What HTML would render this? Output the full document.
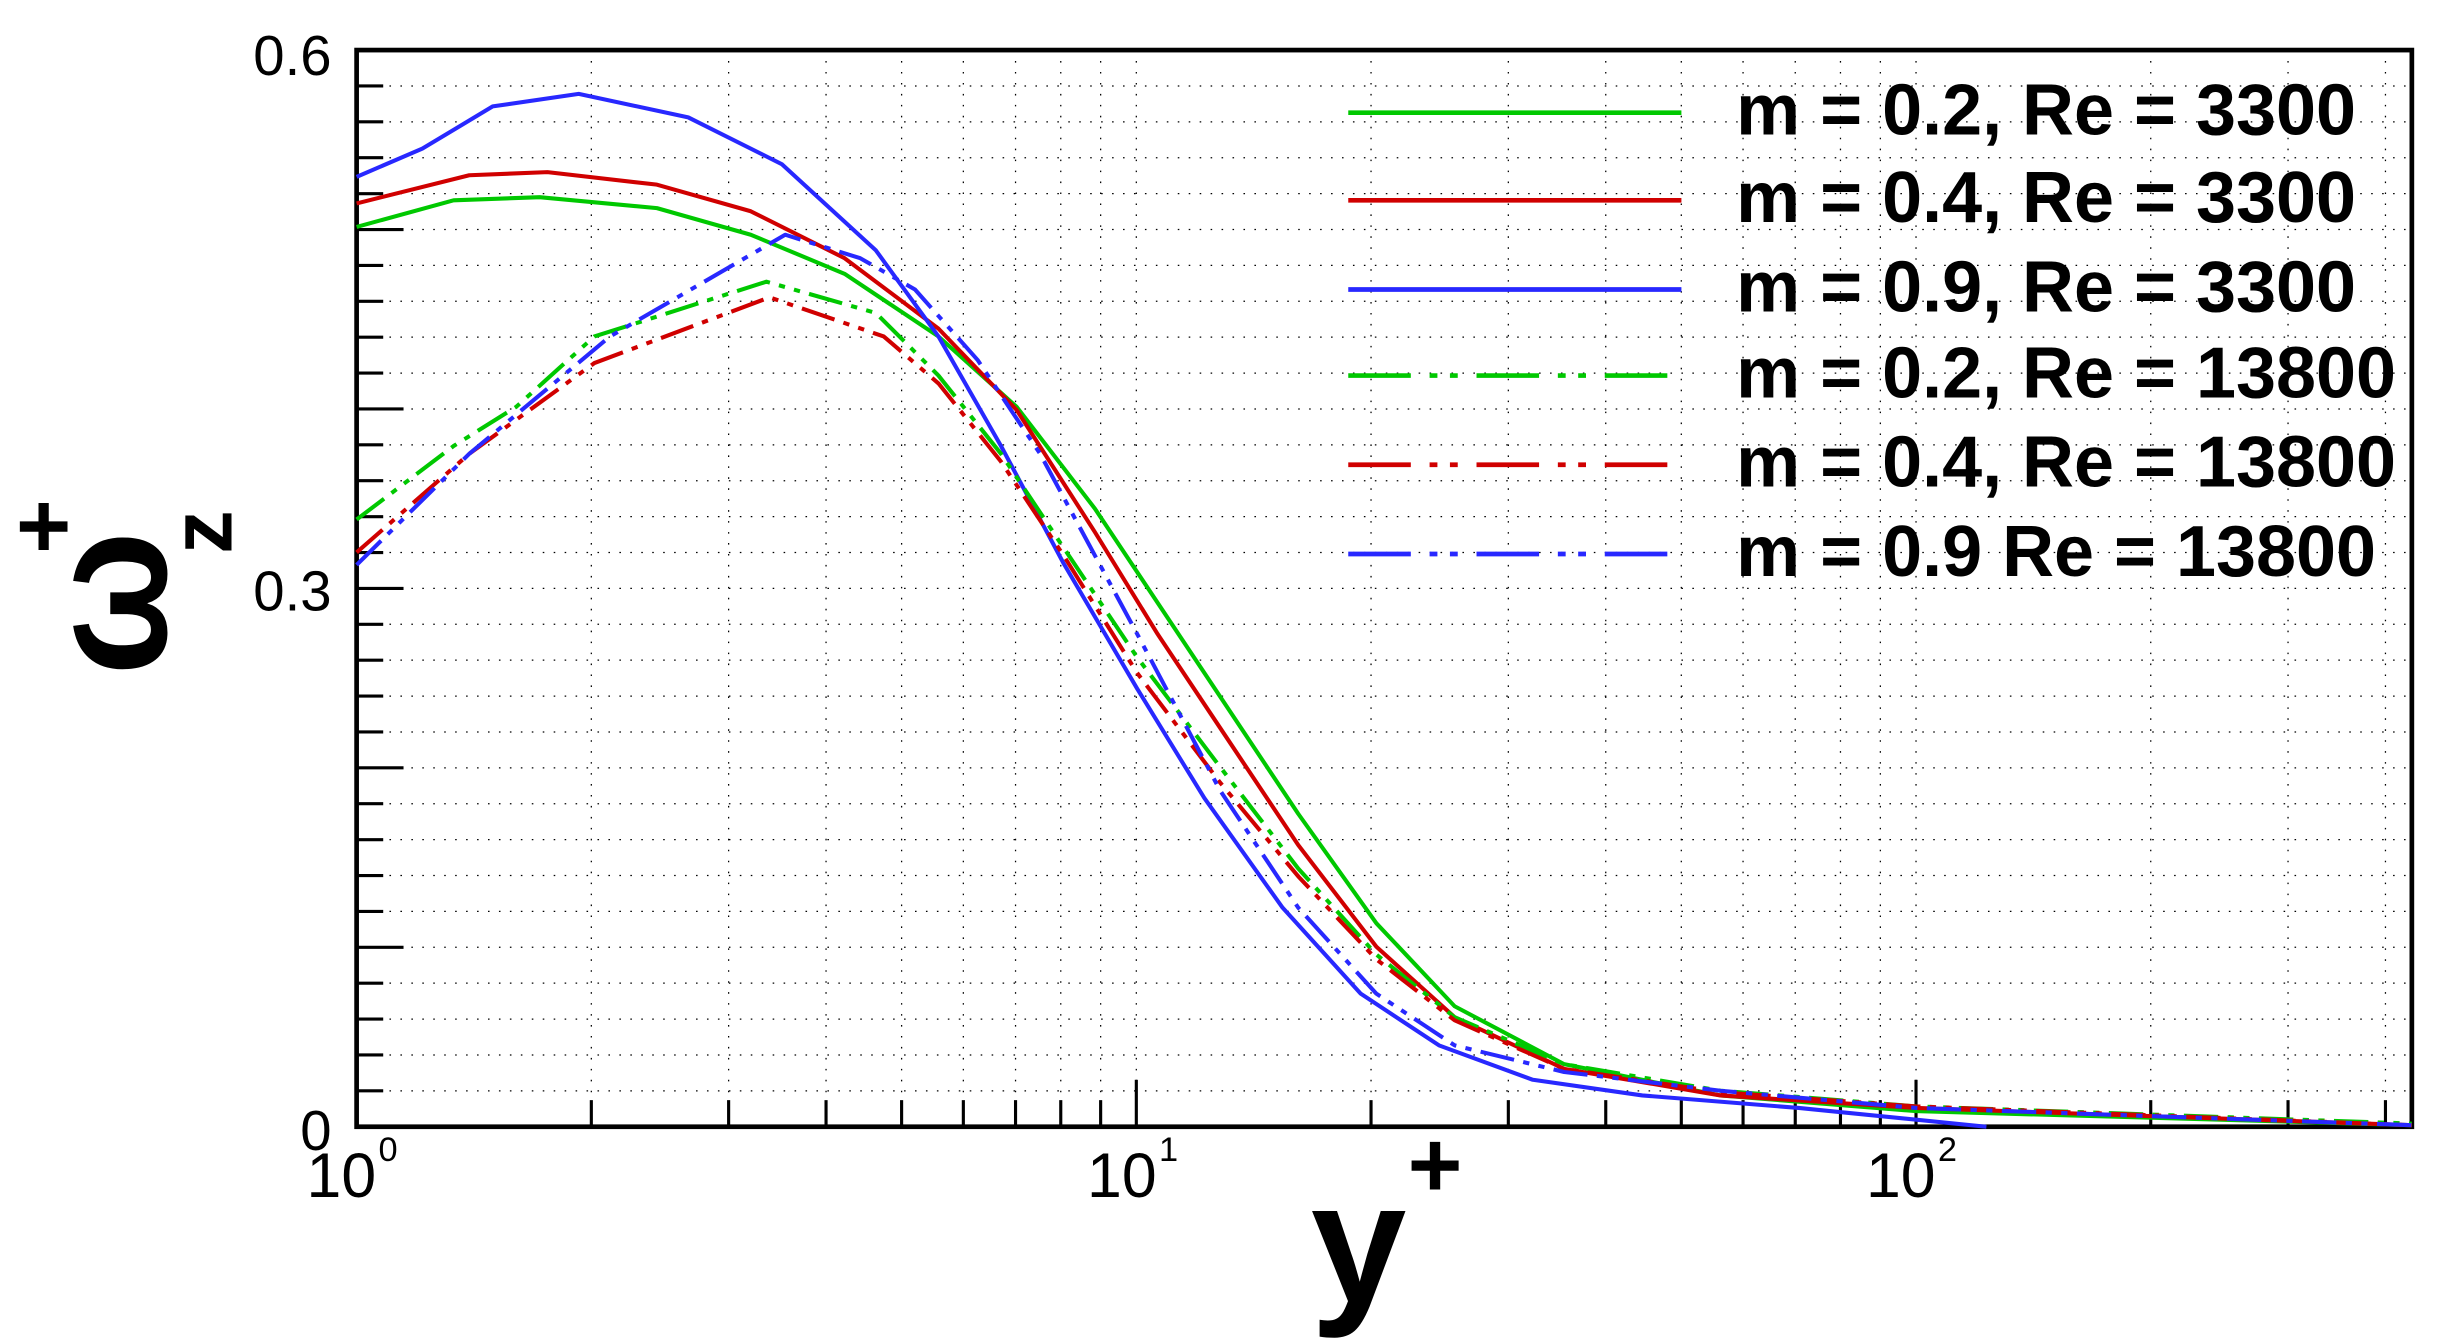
<!DOCTYPE html>
<html><head><meta charset="utf-8"><style>html,body{margin:0;padding:0;background:#fff}svg{display:block}</style></head><body>
<svg width="2440" height="1338" viewBox="0 0 1560 855" preserveAspectRatio="none" xmlns="http://www.w3.org/2000/svg" font-family="Liberation Sans, sans-serif">
<g id="grid" stroke="#000" stroke-width="0.8" stroke-dasharray="1 6" fill="none">
</g>
<g id="ticks" stroke="#000" stroke-width="2" fill="none"></g>
<rect x="228" y="32" width="1314" height="688" fill="none" stroke="#000" stroke-width="3"/>
<g fill="none" stroke-width="2.6" stroke-linejoin="round">
<polyline stroke="#00c800" points="228,145 290,128 345,126 420,133 480,150 540,175 600,215 650,260 700,325 740,385 780,445 830,520 880,590 930,643 1000,680 1100,700 1225,710 1542,719"/>
<polyline stroke="#d00000" points="228,130 300,112 350,110 420,118 480,135 540,165 600,210 650,262 700,340 740,405 780,465 830,540 880,605 930,650 1000,683 1100,700 1225,708 1542,719"/>
<polyline stroke="#2828ff" points="228,113 270,95 315,68 370,60 440,75 500,105 560,160 600,215 640,285 680,360 727,440 770,510 820,580 870,635 920,668 980,690 1050,700 1150,708 1270,720"/>
<polyline stroke="#00c800" stroke-dasharray="22 6 4 6 4 6" points="228,332 290,285 330,260 380,215 490,180 560,200 600,240 640,290 680,350 727,420 780,490 830,555 880,610 930,650 1000,680 1100,697 1225,707 1542,718"/>
<polyline stroke="#d00000" stroke-dasharray="22 6 4 6 4 6" points="228,353 300,290 380,232 492,190 565,215 600,245 640,295 680,355 727,430 780,500 830,560 880,613 930,652 1000,683 1100,698 1225,707 1542,719"/>
<polyline stroke="#2828ff" stroke-dasharray="22 6 4 6 4 6" points="228,361 300,290 390,215 502,150 550,165 585,185 625,230 665,290 727,405 780,505 830,580 880,635 930,668 1000,685 1100,697 1225,708 1542,719"/>
</g>
<g stroke-width="3">
<line x1="862" y1="72" x2="1075" y2="72" stroke="#00c800"/>
<line x1="862" y1="128" x2="1075" y2="128" stroke="#d00000"/>
<line x1="862" y1="185" x2="1075" y2="185" stroke="#2828ff"/>
<line x1="862" y1="240" x2="1075" y2="240" stroke="#00c800" stroke-dasharray="40 12 5 8 5 12"/>
<line x1="862" y1="297" x2="1075" y2="297" stroke="#d00000" stroke-dasharray="40 12 5 8 5 12"/>
<line x1="862" y1="354" x2="1075" y2="354" stroke="#2828ff" stroke-dasharray="40 12 5 8 5 12"/>
</g>
<g font-weight="bold" font-size="46" fill="#000">
<text x="1110" y="86">m = 0.2, Re = 3300</text>
<text x="1110" y="142">m = 0.4, Re = 3300</text>
<text x="1110" y="199">m = 0.9, Re = 3300</text>
<text x="1110" y="254">m = 0.2, Re = 13800</text>
<text x="1110" y="311">m = 0.4, Re = 13800</text>
<text x="1110" y="368">m = 0.9 Re = 13800</text>
</g>
<g font-size="36" fill="#000" text-anchor="end">
<text x="212" y="48">0.6</text>
<text x="212" y="390">0.3</text>
<text x="212" y="735">0</text>
</g>
<g font-size="40" fill="#000">
<text x="196" y="765">10</text><text x="242" y="742" font-size="22">0</text>
<text x="695" y="765">10</text><text x="741" y="742" font-size="22">1</text>
<text x="1193" y="765">10</text><text x="1239" y="742" font-size="22">2</text>
</g>
<text x="838" y="832" font-size="110" font-weight="bold">y</text>
<text x="900" y="765" font-size="60" font-weight="bold">+</text>
<g transform="translate(106,432) rotate(-90)" font-weight="bold" fill="#000">
<text x="0" y="0" font-size="110">ω</text>
<text x="78" y="42" font-size="56">z</text>
<text x="78" y="-58" font-size="60">+</text>
</g>
<script>
(function(){
var ns="http://www.w3.org/2000/svg",g=document.getElementById('grid'),t=document.getElementById('ticks');
function L(p,x1,y1,x2,y2){var l=document.createElementNS(ns,'line');l.setAttribute('x1',x1);l.setAttribute('y1',y1);l.setAttribute('x2',x2);l.setAttribute('y2',y2);p.appendChild(l);}
for(var i=1;i<30;i++){var y=720-i*688/30;L(g,228,y,1542,y);L(t,228,y,(i%5==0)?258:245,y);}
var X0=228,D=498.5;
for(var d=0;d<3;d++)for(var k=1;k<10;k++){var x=X0+D*(d+Math.log10(k));if(x>=1540)continue;if(!(d==0&&k==1)){L(g,x,32,x,720);}L(t,x,720,x,(k==1)?690:703);}
})();
</script>
</svg>
</body></html>
